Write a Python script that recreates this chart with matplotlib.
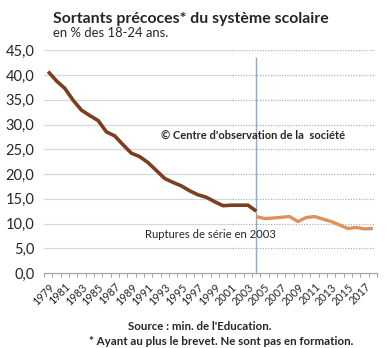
import matplotlib
matplotlib.use("Agg")
import matplotlib.pyplot as plt

plt.rcParams['font.family'] = ['Lato', 'DejaVu Sans']

years = list(range(1979, 2019))

# ancienne série 1979-2004
old_years = list(range(1979, 2005))
old_values = [40.7, 38.8, 37.3, 34.9, 32.9, 31.8, 30.8, 28.5, 27.7, 25.9,
              24.2, 23.5, 22.3, 20.7, 19.1, 18.3, 17.6, 16.6, 15.8, 15.3,
              14.4, 13.6, 13.7, 13.7, 13.7, 12.5]

# nouvelle série 2004-2018
new_years = list(range(2004, 2019))
new_values = [11.4, 11.0, 11.1, 11.25, 11.4, 10.4, 11.2, 11.4, 10.9, 10.4,
              9.7, 9.0, 9.2, 8.9, 9.0]

tick_labels = [str(y) for y in years[::2]]

W, H = 387, 348
fig = plt.figure(figsize=(W / 100, H / 100), dpi=100)
ax = fig.add_axes([44 / W, 1 - 273 / H, 333 / W, (273 - 50.25) / H])

x_old = [years.index(y) for y in old_years]
x_new = [years.index(y) for y in new_years]

# grid: solid on the left part, dotted on the right part
split = (231.7 - 44) / (333 / 40) - 0.5
for v in range(5, 50, 5):
    ax.plot([-0.5, split], [v, v], color='#d3d9de', lw=0.9, zorder=1)
    ax.plot([split, 39.3], [v, v], color='#aab4c0', lw=0.9, ls=(0, (1, 1.2)), zorder=1)

ax.axvline(years.index(2004), ymin=0, ymax=(273 - 58) / (273 - 50.25),
           color='#8eaacb', lw=1.0, zorder=2, clip_on=False)

ax.plot(x_old, old_values, color='#7b3f1d', lw=2.6, solid_capstyle='butt', zorder=3)
ax.plot(x_new, new_values, color='#e0915a', lw=2.4, solid_capstyle='butt', zorder=3)

ax.set_xlim(-0.5, 39.5)
ax.set_ylim(0, 45)

for s in ['top', 'right', 'left']:
    ax.spines[s].set_visible(False)
ax.spines['bottom'].set_color('#a6a6a6')
ax.spines['bottom'].set_linewidth(0.9)

ax.set_yticks(range(0, 50, 5))
ax.set_yticklabels([f"{v},0" for v in range(0, 50, 5)], fontsize=10.5, color='#262626')
ax.tick_params(axis='y', length=0, pad=7)

ax.set_xticks([i - 0.5 for i in range(41)], minor=True)
ax.tick_params(axis='x', which='minor', length=3, width=0.8, color='#a6a6a6', direction='out')
ax.set_xticks(range(0, 40, 2))
ax.set_xticklabels(tick_labels, rotation=45, ha='right', rotation_mode='anchor',
                   fontsize=7.8, color='#262626')
ax.tick_params(axis='x', which='major', length=0, pad=6)

fig.text(53 / W, 1 - 19 / H, "Sortants précoces* du système scolaire",
         fontsize=11.4, fontweight='bold', color='#262626', va='center', ha='left')
fig.text(53 / W, 1 - 33 / H, "en % des 18-24 ans.",
         fontsize=9.4, color='#262626', va='center', ha='left')

fig.text(161 / W, 1 - 135 / H, "© Centre d'observation de la  société",
         fontsize=8.0, fontweight='bold', color='#262626', va='center', ha='left')
fig.text(145 / W, 1 - 234 / H, "Ruptures de série en 2003",
         fontsize=8.1, color='#262626', va='center', ha='left')

fig.text(200 / W, 1 - 326.5 / H, "Source : min. de l'Education.",
         fontsize=8.3, fontweight='bold', color='#262626', va='center', ha='center')
fig.text(221 / W, 1 - 341.5 / H, "* Ayant au plus le brevet. Ne sont pas en formation.",
         fontsize=8.3, fontweight='bold', color='#262626', va='center', ha='center')

fig.savefig("out.png", dpi=100)
